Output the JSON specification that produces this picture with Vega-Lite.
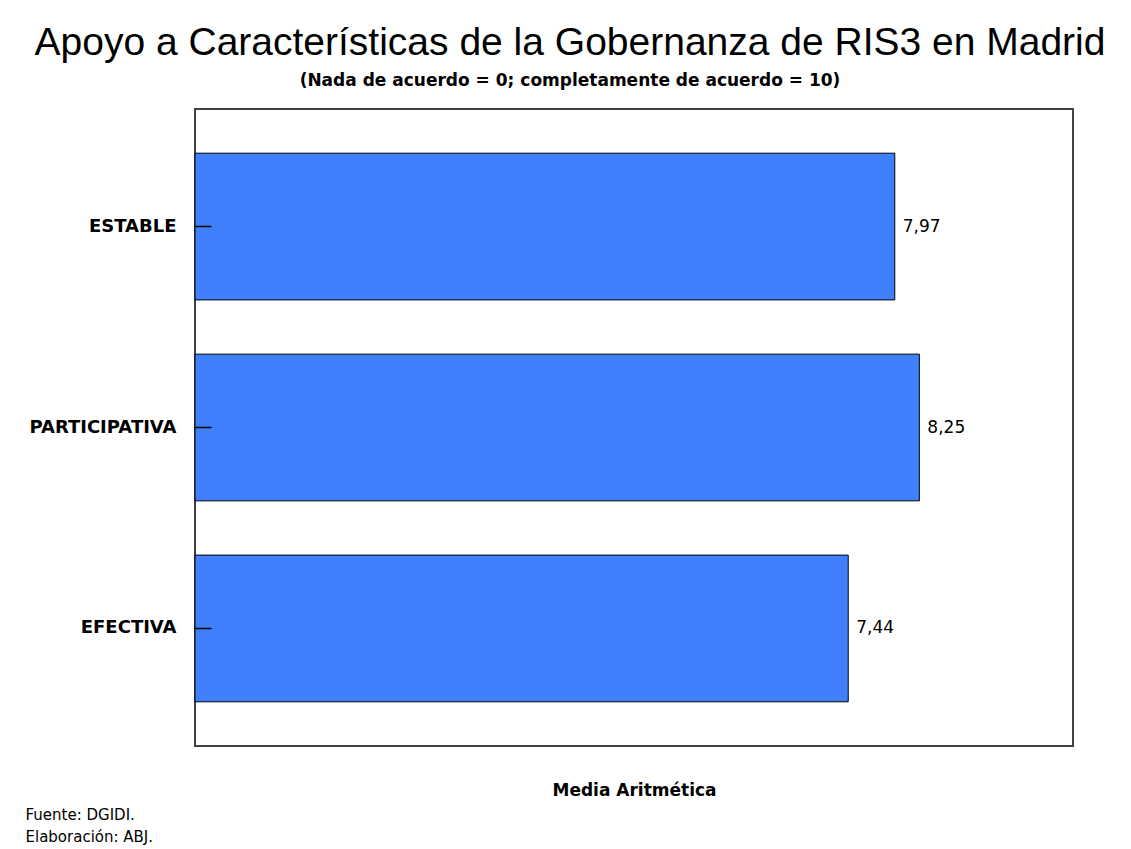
{
  "$schema": "https://vega.github.io/schema/vega-lite/v6.json",
  "autosize": "none",
  "width": 878,
  "height": 637,
  "padding": {"left": 195, "top": 109, "right": 58, "bottom": 103},
  "background": "white",
  "title": {
    "text": "Apoyo a Características de la Gobernanza de RIS3 en Madrid",
    "subtitle": "(Nada de acuerdo = 0; completamente de acuerdo = 10)",
    "anchor": "middle",
    "dx": -64,
    "font": "Liberation Sans",
    "fontSize": 39,
    "fontWeight": "normal",
    "color": "black",
    "subtitleFont": "DejaVu Sans",
    "subtitleFontSize": 17,
    "subtitleFontWeight": "bold",
    "subtitleColor": "black",
    "subtitlePadding": 10,
    "offset": 20
  },
  "data": {
    "values": [
      {"caracteristica": "ESTABLE", "media": 7.97},
      {"caracteristica": "PARTICIPATIVA", "media": 8.25},
      {"caracteristica": "EFECTIVA", "media": 7.44}
    ]
  },
  "encoding": {
    "y": {
      "field": "caracteristica",
      "type": "nominal",
      "sort": null,
      "scale": {"paddingInner": 0.27, "paddingOuter": 0.22},
      "axis": {
        "zindex": 1,
        "domain": false,
        "grid": false,
        "ticks": true,
        "tickSize": -16,
        "tickColor": "black",
        "tickWidth": 1.5,
        "labelPadding": 35,
        "labelFont": "DejaVu Sans",
        "labelFontSize": 18,
        "labelFontWeight": "bold",
        "labelColor": "black",
        "title": ["Fuente: DGIDI.", "Elaboración: ABJ."],
        "titleAngle": 0,
        "titleAlign": "left",
        "titleBaseline": "middle",
        "titleX": -170,
        "titleY": 705,
        "titleLineHeight": 22,
        "titleFont": "DejaVu Sans",
        "titleFontSize": 15,
        "titleFontWeight": "normal",
        "titleColor": "black"
      }
    },
    "x": {
      "field": "media",
      "type": "quantitative",
      "scale": {"domain": [0, 10], "nice": false},
      "axis": {
        "domain": false,
        "grid": false,
        "ticks": false,
        "labels": false,
        "title": "Media Aritmética",
        "titlePadding": 36,
        "titleFont": "DejaVu Sans",
        "titleFontSize": 17,
        "titleFontWeight": "bold",
        "titleColor": "black"
      }
    }
  },
  "layer": [
    {"mark": {"type": "bar", "fill": "#4080ff", "stroke": "black", "strokeWidth": 1}},
    {
      "mark": {"type": "text", "align": "left", "baseline": "middle", "dx": 8, "font": "DejaVu Sans", "fontSize": 17, "color": "black"},
      "encoding": {"text": {"field": "media", "type": "quantitative", "format": ".2f"}}
    }
  ],
  "config": {
    "view": {"stroke": "#404040", "strokeWidth": 2},
    "locale": {"number": {"decimal": ",", "thousands": ".", "grouping": [3], "currency": ["", " €"]}}
  }
}
